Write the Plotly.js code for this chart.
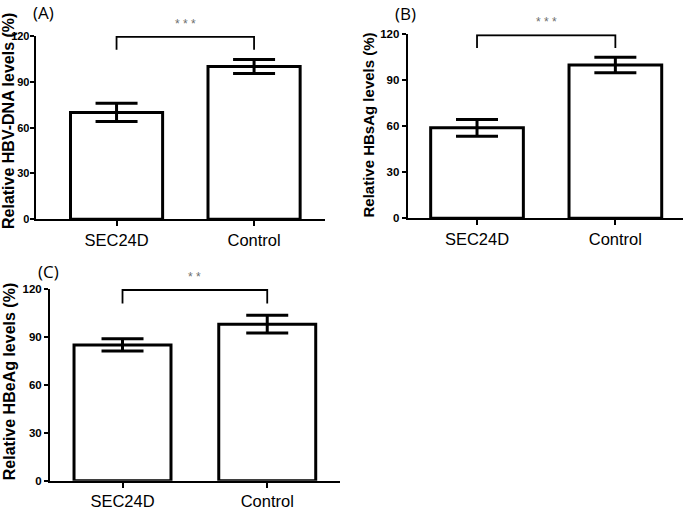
<!DOCTYPE html>
<html>
<head>
<meta charset="utf-8">
<script src="https://cdn.plot.ly/plotly-3.0.1.min.js"></script>
<style>html,body{margin:0;padding:0;background:#fff;}#chart{width:685px;height:510px;}</style>
</head>
<body>
<div id="chart"></div>
<script>
// ---- data ----
const categories = ['SEC24D', 'Control'];
const hbvDnaMean = [70, 100];
const hbvDnaErr = [6, 4.6];
const hbsAgMean = [59, 100];
const hbsAgErr = [5.5, 5];
const hbeAgMean = [85, 98];
const hbeAgErr = [3.8, 5.5];
const yTickVals = [0, 30, 60, 90, 120];
const panelLabels = ['(A)', '(B)', '(C)'];
const yTitles = ['Relative HBV-DNA levels (%)', 'Relative HBsAg levels (%)', 'Relative HBeAg levels (%)'];
const sigMarks = ['* * *', '* * *', '* *'];
const bracketY = [111, 119.4, 119.4, 111];
const bracketX = [categories[0], categories[0], categories[1], categories[1]];

const FONT = 'Arial, "Liberation Sans", sans-serif';
const means = [hbvDnaMean, hbsAgMean, hbeAgMean];
const errs = [hbvDnaErr, hbsAgErr, hbeAgErr];
const axIds = [['x', 'y'], ['x2', 'y2'], ['x3', 'y3']];

const traces = [];
means.forEach((m, i) => {
  traces.push({
    type: 'bar', x: categories, y: m, xaxis: axIds[i][0], yaxis: axIds[i][1],
    width: 0.67,
    marker: {color: '#ffffff', line: {color: '#000000', width: 3}},
    error_y: {type: 'data', array: errs[i], visible: true, color: '#000000', thickness: 3, width: 21},
    hoverinfo: 'skip', showlegend: false
  });
  traces.push({
    type: 'scatter', mode: 'lines', x: bracketX, y: bracketY,
    xaxis: axIds[i][0], yaxis: axIds[i][1],
    line: {color: '#000000', width: 1.8}, hoverinfo: 'skip', showlegend: false
  });
});

function xAxis(domain, range, anchor) {
  return {
    domain: domain, range: range, type: 'category', anchor: anchor,
    showline: true, linecolor: '#000', linewidth: 2,
    ticks: 'outside', ticklen: 5, tickwidth: 2, tickcolor: '#000',
    showgrid: false, zeroline: false,
    tickfont: {family: FONT, size: 16.5, color: '#000'}
  };
}
function yAxis(domain, anchor, fsize, standoff) {
  return {
    domain: domain, range: [0, 120], anchor: anchor,
    tickvals: yTickVals, ticktext: yTickVals.map(String),
    showline: true, linecolor: '#000', linewidth: 2,
    ticks: 'outside', ticklen: 4, tickwidth: 2, tickcolor: '#000',
    ticklabelstandoff: standoff,
    showgrid: false, zeroline: false,
    tickfont: {family: FONT, size: fsize, color: '#000', weight: 'bold'}
  };
}

const annotations = [];
const labelPos = [[0.0628, 0.976], [0.5927, 0.9745], [0.0715, 0.4667]];
panelLabels.forEach((t, i) => {
  annotations.push({
    xref: 'paper', yref: 'paper', x: labelPos[i][0], y: labelPos[i][1],
    text: t, showarrow: false, xanchor: 'center', yanchor: 'middle',
    font: {family: '"Open Sans", sans-serif', size: 17, color: '#000'}
  });
});
const titlePos = [[8 / 685, 1 - 121 / 510, 16], [367.5 / 685, 1 - 125 / 510, 15], [9.2 / 685, 1 - 382 / 510, 16]];
yTitles.forEach((t, i) => {
  annotations.push({
    xref: 'paper', yref: 'paper', x: titlePos[i][0], y: titlePos[i][1],
    text: t, showarrow: false, textangle: -90, xanchor: 'center', yanchor: 'middle',
    font: {family: FONT, size: titlePos[i][2], color: '#000', weight: 'bold'}
  });
});
sigMarks.forEach((t, i) => {
  annotations.push({
    xref: axIds[i][0], yref: axIds[i][1], x: 0.5, y: 120,
    text: t, showarrow: false, xanchor: 'center', yanchor: 'bottom', yshift: 3,
    font: {family: FONT, size: 12, color: '#6e6e6e'}
  });
});

const layout = {
  width: 685, height: 510,
  margin: {l: 0, r: 0, t: 0, b: 0},
  paper_bgcolor: '#fff', plot_bgcolor: '#fff',
  xaxis: xAxis([0.0521, 0.4745], [-0.588, 1.516], 'y'),
  yaxis: yAxis([0.5700, 0.9294], 'x', 11, -2),
  xaxis2: xAxis([0.5952, 0.9971], [-0.501, 1.489], 'y2'),
  yaxis2: yAxis([0.5720, 0.9327], 'x2', 11.5, 0),
  xaxis3: xAxis([0.0730, 0.4964], [-0.501, 1.503], 'y3'),
  yaxis3: yAxis([0.0575, 0.4333], 'x3', 11.5, 0),
  annotations: annotations
};

Plotly.newPlot('chart', traces, layout, {displayModeBar: false, staticPlot: true});
</script>
</body>
</html>
